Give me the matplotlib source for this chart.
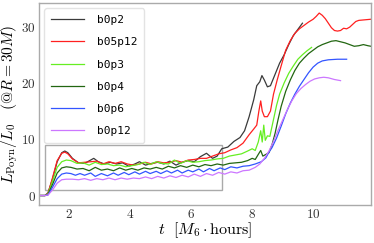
import matplotlib
matplotlib.use("Agg")
import matplotlib.pyplot as plt
from matplotlib.patches import Rectangle
from matplotlib.ticker import FuncFormatter

plt.rcParams['mathtext.fontset'] = 'cm'
plt.rcParams['font.family'] = 'DejaVu Serif'

# b0p2
t_b0p2 = [1.0, 1.2, 1.3, 1.45, 1.6, 1.75, 1.85, 1.95, 2.1, 2.3, 2.5, 2.7, 2.8, 2.95, 3.15, 3.35,
          3.55, 3.75, 3.95, 4.15, 4.3, 4.5, 4.7, 4.9, 5.1, 5.3, 5.5, 5.7, 5.9, 6.1, 6.3, 6.5,
          6.7, 6.85, 7.0, 7.2, 7.4, 7.6, 7.75, 7.9, 8.05, 8.15, 8.25, 8.32, 8.4, 8.5, 8.6,
          8.75, 8.9, 9.05, 9.2, 9.35, 9.5, 9.65]
L_b0p2 = [0, 0, 0.5, 3.0, 6.0, 7.6, 7.9, 7.6, 6.6, 5.8, 5.7, 6.3, 6.6, 6.0, 5.6, 5.9,
          5.6, 5.8, 5.2, 5.6, 6.0, 5.4, 5.7, 5.9, 5.6, 6.1, 5.4, 5.9, 6.2, 6.0, 6.9, 7.5,
          6.6, 7.0, 8.3, 8.6, 9.6, 10.3, 11.5, 14.0, 17.0, 19.5, 20.2, 21.3, 20.5, 19.3, 19.5,
          21.5, 23.5, 25.0, 26.8, 28.4, 29.5, 30.6]

# b05p12
t_b05p12 = [1.0, 1.2, 1.3, 1.45, 1.6, 1.75, 1.85, 1.95, 2.1, 2.3, 2.5, 2.7, 2.9, 3.1, 3.3, 3.5,
            3.7, 3.9, 4.1, 4.3, 4.5, 4.7, 4.9, 5.1, 5.3, 5.5, 5.7, 5.9, 6.1, 6.3, 6.5, 6.7,
            6.9, 7.1, 7.3, 7.5, 7.7, 7.9, 8.05, 8.15, 8.22, 8.28, 8.33, 8.4, 8.5, 8.6, 8.7,
            8.82, 8.95, 9.1, 9.25, 9.4, 9.55, 9.7, 9.85, 10.0, 10.1, 10.2, 10.3, 10.4, 10.5,
            10.6, 10.7, 10.8, 10.9, 11.0, 11.1, 11.2, 11.3, 11.4, 11.5, 11.7, 11.9]
L_b05p12 = [0, 0, 0.4, 3.2, 6.2, 7.5, 7.7, 7.4, 6.5, 5.8, 5.9, 6.0, 6.1, 5.6, 6.0, 5.7,
            6.0, 5.6, 5.4, 5.6, 5.9, 5.6, 6.0, 5.8, 5.9, 6.2, 5.9, 6.3, 6.4, 6.6, 6.6, 7.0,
            7.4, 7.6, 8.1, 8.5, 9.3, 10.8, 11.8, 12.5, 15.0, 16.8, 15.0, 14.0, 14.0, 15.0, 18.0,
            20.5, 23.0, 25.8, 27.5, 28.8, 29.6, 30.2, 30.8, 31.3, 31.8, 32.4, 32.0, 31.4, 30.6,
            29.8, 29.3, 29.2, 29.3, 29.7, 29.6, 29.9, 30.4, 30.9, 31.1, 31.2, 31.3]

# b0p3
t_b0p3 = [1.0, 1.2, 1.3, 1.45, 1.6, 1.75, 1.9, 2.05, 2.25, 2.45, 2.65, 2.85, 3.05, 3.25, 3.45,
          3.65, 3.85, 4.05, 4.25, 4.45, 4.65, 4.85, 5.05, 5.25, 5.45, 5.65, 5.85, 6.05, 6.25,
          6.45, 6.65, 6.85, 7.05, 7.25, 7.45, 7.65, 7.85, 8.0, 8.1, 8.2, 8.28, 8.33, 8.38, 8.43,
          8.5, 8.58, 8.7, 8.8, 8.9, 9.05, 9.2, 9.35, 9.5, 9.65, 9.8, 9.95]
L_b0p3 = [0, 0, 0.3, 2.6, 5.0, 6.0, 6.3, 6.2, 5.7, 5.8, 5.4, 5.9, 5.5, 5.6, 5.3,
          5.4, 5.1, 5.3, 5.5, 5.9, 5.5, 6.0, 5.7, 5.6, 6.3, 5.7, 6.2, 5.9, 6.0,
          6.2, 6.3, 6.5, 6.6, 7.0, 7.2, 7.4, 7.9, 8.3, 8.0, 9.5, 11.5, 9.5, 12.5, 9.8,
          10.6, 10.5, 13.5, 16.0, 18.0, 20.0, 21.7, 23.0, 24.2, 25.0, 25.7, 26.3]

# b0p4
t_b0p4 = [1.0, 1.2, 1.3, 1.45, 1.6, 1.75, 1.9, 2.05, 2.25, 2.45, 2.65, 2.85, 3.05, 3.25, 3.45,
          3.65, 3.85, 4.05, 4.25, 4.45, 4.65, 4.85, 5.05, 5.25, 5.45, 5.65, 5.85, 6.05, 6.25,
          6.45, 6.65, 6.85, 7.05, 7.25, 7.45, 7.65, 7.85, 8.0, 8.1, 8.2, 8.28, 8.35, 8.45,
          8.55, 8.65, 8.75, 8.85, 8.95, 9.1, 9.25, 9.4, 9.55, 9.7, 9.85, 10.0, 10.15, 10.3,
          10.45, 10.6, 10.75, 10.9, 11.05, 11.2, 11.35, 11.5, 11.65, 11.8, 11.9]
L_b0p4 = [0, 0, 0.2, 2.0, 4.0, 4.9, 5.1, 5.0, 4.7, 4.8, 4.4, 5.0, 4.5, 4.7, 4.4,
          4.9, 4.5, 4.8, 4.5, 4.9, 4.7, 5.0, 4.7, 5.2, 4.9, 5.3, 5.0, 5.4, 5.1,
          5.5, 5.3, 5.6, 5.4, 5.7, 5.8, 5.9, 6.2, 6.6, 6.4, 7.3, 8.0, 7.0, 7.3,
          7.6, 9.0, 11.0, 13.5, 15.8, 18.5, 20.5, 22.2, 23.5, 24.4, 25.2, 25.8, 26.4, 26.8,
          27.1, 27.4, 27.5, 27.3, 27.1, 26.8, 26.5, 26.6, 26.8, 26.6, 26.5]

# b0p6
t_b0p6 = [1.0, 1.2, 1.3, 1.45, 1.6, 1.75, 1.9, 2.05, 2.2, 2.35, 2.5, 2.7, 2.85, 3.05, 3.25,
          3.45, 3.6, 3.8, 3.95, 4.15, 4.3, 4.5, 4.65, 4.85, 5.0, 5.2, 5.35, 5.55, 5.7, 5.9,
          6.05, 6.25, 6.4, 6.6, 6.75, 6.95, 7.1, 7.3, 7.5, 7.7, 7.9, 8.1, 8.3, 8.45, 8.55,
          8.65, 8.8, 8.95, 9.1, 9.25, 9.4, 9.55, 9.7, 9.85, 10.0, 10.15, 10.3, 10.5, 10.8, 11.1]
L_b0p6 = [0, 0, 0.1, 1.5, 3.0, 3.8, 4.0, 3.9, 3.6, 3.9, 3.6, 4.0, 3.4, 3.9, 3.5,
          4.0, 3.6, 4.1, 3.7, 4.2, 3.8, 4.3, 3.9, 4.3, 3.9, 4.4, 4.0, 4.5, 4.0, 4.5,
          4.2, 4.7, 4.2, 4.8, 4.4, 4.9, 4.6, 5.1, 4.9, 5.2, 5.3, 5.6, 6.0, 6.7, 7.7,
          8.5, 10.2, 12.3, 14.5, 16.4, 18.0, 19.4, 20.6, 21.8, 22.8, 23.5, 23.9, 24.1, 24.2, 24.2]

# b0p12
t_b0p12 = [1.0, 1.2, 1.3, 1.45, 1.6, 1.75, 1.9, 2.1, 2.3, 2.5, 2.7, 2.9, 3.1, 3.3, 3.5, 3.7,
           3.9, 4.1, 4.3, 4.5, 4.7, 4.9, 5.1, 5.3, 5.5, 5.7, 5.9, 6.1, 6.3, 6.5, 6.7, 6.9,
           7.1, 7.3, 7.5, 7.7, 7.9, 8.1, 8.25, 8.4, 8.55, 8.7, 8.85, 9.0, 9.15, 9.3, 9.45,
           9.6, 9.75, 9.9, 10.05, 10.2, 10.35, 10.5, 10.7, 10.9]
L_b0p12 = [0, 0, 0.1, 1.0, 2.2, 2.8, 2.9, 2.9, 2.8, 3.0, 2.7, 3.0, 2.8, 3.1, 2.8, 3.1,
           2.9, 3.1, 3.0, 3.3, 3.0, 3.4, 3.1, 3.5, 3.2, 3.6, 3.3, 3.8, 3.4, 3.9, 3.6, 4.1,
           3.8, 4.2, 4.0, 4.4, 4.5, 5.0, 5.6, 6.6, 7.9, 9.6, 11.6, 13.4, 15.2, 16.8, 18.1,
           19.0, 19.7, 20.3, 20.7, 20.9, 21.0, 20.9, 20.6, 20.4]

labels = ['b0p2', 'b05p12', 'b0p3', 'b0p4', 'b0p6', 'b0p12']
colors = ['#3a3a3a', '#ff2020', '#66ee22', '#226611', '#3355ff', '#cc77ff']
series = [(t_b0p2, L_b0p2), (t_b05p12, L_b05p12), (t_b0p3, L_b0p3),
          (t_b0p4, L_b0p4), (t_b0p6, L_b0p6), (t_b0p12, L_b0p12)]

fig = plt.figure(figsize=(3.74, 2.43), dpi=100)
ax = fig.add_axes([0.104, 0.156, 0.888, 0.832])

for (t, L), lab, c in zip(series, labels, colors):
    ax.plot(t, L, color=c, lw=0.9, label=lab)

# zoom box
ax.add_patch(Rectangle((1.2, 1.0), 5.8, 8.0, fill=False, edgecolor='#aaaaaa', lw=1.0))

ax.set_xlim(1.0, 11.9)
ax.set_ylim(-1.7, 34.2)
ax.set_xticks([2, 4, 6, 8, 10])
ax.set_yticks([0, 10, 20, 30])
fmt = FuncFormatter(lambda v, p: f'${v:g}$')
ax.xaxis.set_major_formatter(fmt)
ax.yaxis.set_major_formatter(fmt)
ax.tick_params(length=0, labelsize=9.5, pad=2, colors='#333333')
for s in ax.spines.values():
    s.set_color('#aaaaaa')
    s.set_linewidth(1.0)

ax.set_xlabel(r'$t\ \ [M_6 \cdot {\rm hours}]$', fontsize=11.5, labelpad=0)
ax.set_ylabel(r'$L_{\rm Poyn}/L_0\quad(@R=30M)$', fontsize=11.2, labelpad=1)

leg = ax.legend(loc='upper left', handlelength=3.0, prop={'family': 'DejaVu Sans Mono', 'size': 8},
                labelspacing=1.1, borderpad=0.6, handletextpad=1.1, bbox_to_anchor=(0.0, 1.0))
leg.get_frame().set_edgecolor('#dddddd')

fig.savefig('out.png', dpi=100)
